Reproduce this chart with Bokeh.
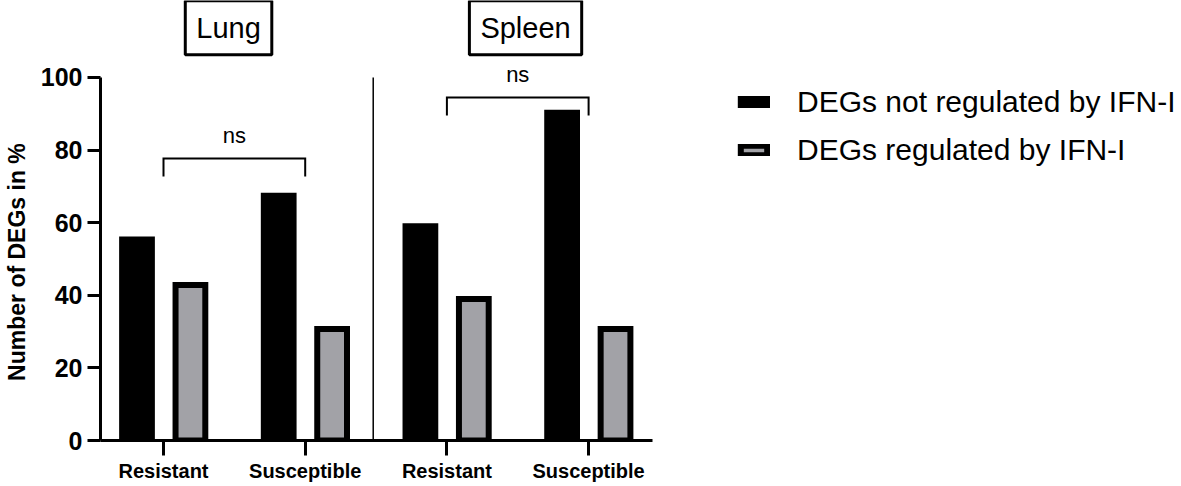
from bokeh.plotting import figure
from bokeh.models import Range1d, FixedTicker, Label, Legend, LegendItem
from bokeh.embed import file_html
from bokeh.resources import INLINE

# ---- data ----
organs = ["Lung", "Spleen"]
groups = ["Resistant", "Susceptible", "Resistant", "Susceptible"]
positions = [1, 2, 3, 4]
not_regulated = [55.4, 67.4, 59.0, 90.3]   # DEGs not regulated by IFN-I (%)
regulated = [42.8, 30.7, 39.0, 30.7]       # DEGs regulated by IFN-I (%)
bracket_levels = [77.7, 94.5]              # "ns" comparison brackets
y_ticks = [0, 20, 40, 60, 80, 100]
y_title = "Number of DEGs in %"

FONT = "Liberation Sans"
W, H = 1180, 484
LEFT = 100
PXU = 141.7                 # px per category unit
x0 = 1 - 63 / PXU
x1 = x0 + (W - LEFT) / PXU
x_end = 4 + 64 / PXU
Y_TOP = 121.2

p = figure(width=W, height=H, output_backend="svg", toolbar_location=None,
           x_range=Range1d(x0, x1), y_range=Range1d(0, Y_TOP),
           min_border_left=LEFT, min_border_right=0, min_border_top=0,
           min_border_bottom=0)
p.outline_line_color = None
p.xgrid.visible = False
p.ygrid.visible = False
p.background_fill_color = "white"

# bars
black_x = [x - 0.187 for x in positions]
gray_x = [x + 0.19 for x in positions]
r1 = p.vbar(x=black_x, top=not_regulated, bottom=0, width=0.21,
            fill_color="black", line_color="black", line_width=6, line_join="miter")
r2 = p.vbar(x=gray_x, top=regulated, bottom=0, width=0.21,
            fill_color="#a2a2a7", line_color="black", line_width=6, line_join="miter")

# divider between organs
divider = 2.48
p.segment(x0=[divider], y0=[0], x1=[divider], y1=[100], line_color="black", line_width=1.5)

# ns brackets
bx, by = [], []
for i, lvl in enumerate(bracket_levels):
    a, b = positions[2 * i], positions[2 * i + 1]
    bx.append([a, a, b, b])
    by.append([lvl - 5, lvl, lvl, lvl - 5])
p.multi_line(xs=bx, ys=by, line_color="black", line_width=2, line_join="miter")
for i, lvl in enumerate(bracket_levels):
    a, b = positions[2 * i], positions[2 * i + 1]
    p.add_layout(Label(x=(a + b) / 2, y=lvl + 6.2, text="ns", text_align="center",
                       text_baseline="alphabetic", text_font=FONT, text_font_size="22px",
                       text_color="black"))

# organ titles
title_x = [1.459, 3.555]
for tx, name in zip(title_x, organs):
    p.add_layout(Label(x=tx, y=113.7, text=name, text_align="center", text_baseline="middle",
                       text_font=FONT, text_font_size="29px", text_color="black",
                       border_line_color="black", border_line_width=3, padding=11,
                       background_fill_color="white"))

# axes
xa = p.xaxis[0]
xa.bounds = (x0, x_end)
xa.ticker = FixedTicker(ticks=positions)
xa.major_label_overrides = {pos: g for pos, g in zip(positions, groups)}
xa.axis_line_width = 3
xa.major_tick_line_width = 3
xa.major_tick_out = 15
xa.major_tick_in = 0
xa.minor_tick_line_color = None
xa.major_label_standoff = 4
xa.major_label_text_font = FONT
xa.major_label_text_font_size = "20px"
xa.major_label_text_font_style = "bold"
xa.major_label_text_color = "black"

ya = p.yaxis[0]
ya.bounds = (0, 100)
ya.ticker = FixedTicker(ticks=y_ticks)
ya.axis_line_width = 3
ya.major_tick_line_width = 3
ya.major_tick_out = 13
ya.major_tick_in = 0
ya.minor_tick_line_color = None
ya.major_label_standoff = 5
ya.major_label_text_font = FONT
ya.major_label_text_font_size = "25px"
ya.major_label_text_font_style = "bold"
ya.major_label_text_color = "black"
# trailing no-break spaces shift the centred label down to the 0-100 span
ya.axis_label = y_title + "\u00a0" * 13
ya.axis_label_standoff = 8
ya.axis_label_text_font = FONT
ya.axis_label_text_font_size = "23px"
ya.axis_label_text_font_style = "bold"
ya.axis_label_text_color = "black"

legend = Legend(items=[LegendItem(label="DEGs not regulated by IFN-I", renderers=[r1]),
                       LegendItem(label="DEGs regulated by IFN-I", renderers=[r2])],
                location=(637, 273), glyph_width=33, glyph_height=12, label_standoff=27,
                spacing=14, padding=0, margin=0, border_line_color=None,
                background_fill_alpha=0, label_text_font=FONT, label_text_font_size="30px",
                label_text_color="black")
p.add_layout(legend)

open("out.html", "w").write(file_html(p, INLINE))
